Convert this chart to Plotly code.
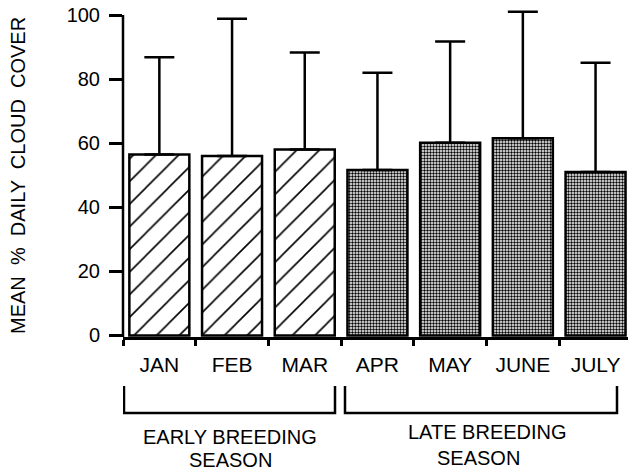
import plotly.graph_objects as go

months = ["JAN", "FEB", "MAR", "APR", "MAY", "JUNE", "JULY"]
mean_cover = [56.5, 56.0, 58.0, 51.6, 60.1, 61.5, 51.0]
sd_upper = [30.3, 42.8, 30.3, 30.4, 31.6, 39.5, 34.1]
early_months = months[:3]
late_months = months[3:]
y_ticks = [0, 20, 40, 60, 80, 100]

FONT = "Liberation Sans, Arial, Helvetica, sans-serif"

fig = go.Figure()

def add_group(names, pattern_shape, size, solidity):
    idx = [months.index(m) for m in names]
    fig.add_trace(go.Bar(
        x=names,
        y=[mean_cover[i] for i in idx],
        width=0.825,
        marker=dict(
            color="white",
            line=dict(color="black", width=2.5),
            pattern=dict(shape=pattern_shape, fgcolor="black", bgcolor="white",
                         size=size, solidity=solidity, fillmode="replace"),
        ),
        error_y=dict(type="data", symmetric=False,
                     array=[sd_upper[i] for i in idx],
                     arrayminus=[0] * len(idx),
                     color="black", thickness=2.5, width=15),
        showlegend=False,
        hoverinfo="skip",
    ))

add_group(early_months, "/", 16, 0.1)
add_group(late_months, ".", 3, 0.5)

W, H = 628, 471
L, R, T, B = 123, 0, 7, 134
pw, ph = W - L - R, H - T - B
cat_px = 72.7

def px_to_cat(px):
    return (px - L) / cat_px - 0.5

def py_to_paper(py):
    return (H - B - py) / ph

shapes = []
# y axis line from bottom to 100
shapes.append(dict(type="line", xref="paper", yref="y", x0=0, x1=0, y0=-0.5, y1=100,
                   line=dict(color="black", width=2.5)))
# brackets
for (xl, xr) in [(124, 335), (345, 617)]:
    y_top, y_bot = py_to_paper(386), py_to_paper(413)
    shapes.append(dict(type="path", xref="x", yref="paper",
                       path=f"M {px_to_cat(xl)} {y_top} L {px_to_cat(xl)} {y_bot} L {px_to_cat(xr)} {y_bot} L {px_to_cat(xr)} {y_top}",
                       line=dict(color="black", width=2.5)))

annotations = [
    dict(text="EARLY BREEDING", x=px_to_cat(230), y=py_to_paper(437), xref="x", yref="paper",
         showarrow=False, font=dict(size=20, color="black", family=FONT), xanchor="center", yanchor="middle"),
    dict(text="SEASON", x=px_to_cat(230), y=py_to_paper(460), xref="x", yref="paper",
         showarrow=False, font=dict(size=20, color="black", family=FONT), xanchor="center", yanchor="middle"),
    dict(text="LATE BREEDING", x=px_to_cat(487), y=py_to_paper(432), xref="x", yref="paper",
         showarrow=False, font=dict(size=20, color="black", family=FONT), xanchor="center", yanchor="middle"),
    dict(text="SEASON", x=px_to_cat(478), y=py_to_paper(458), xref="x", yref="paper",
         showarrow=False, font=dict(size=20, color="black", family=FONT), xanchor="center", yanchor="middle"),
    dict(text="MEAN  %  DAILY  CLOUD  COVER", x=(18 - L) / pw, y=py_to_paper(176), xref="paper", yref="paper",
         showarrow=False, textangle=-90, font=dict(size=20, color="black", family=FONT),
         xanchor="center", yanchor="middle"),
]

fig.update_layout(
    width=W, height=H,
    margin=dict(l=L, r=R, t=T, b=B, pad=0),
    paper_bgcolor="white", plot_bgcolor="white",
    bargap=0.175,
    font=dict(family=FONT, color="black"),
    shapes=shapes,
    annotations=annotations,
    xaxis=dict(
        type="category", categoryorder="array", categoryarray=months,
        range=[-0.5, -0.5 + pw / cat_px],
        showline=True, linecolor="black", linewidth=2.5,
        ticks="outside", tickson="boundaries", ticklen=6, tickwidth=2.5, tickcolor="black",
        tickfont=dict(size=21, color="black", family=FONT),
        ticklabelstandoff=7,
        showgrid=False, zeroline=False,
    ),
    yaxis=dict(
        range=[-0.5, 102.5],
        tickvals=y_ticks,
        showline=False,
        ticks="outside", ticklen=13, tickwidth=2.5, tickcolor="black",
        tickfont=dict(size=20, color="black", family=FONT),
        ticklabelstandoff=5,
        showgrid=False, zeroline=False,
    ),
)

fig.write_html("out.html", config={"displayModeBar": False},
               post_script="document.body.style.margin='0';document.body.style.overflow='hidden';")
